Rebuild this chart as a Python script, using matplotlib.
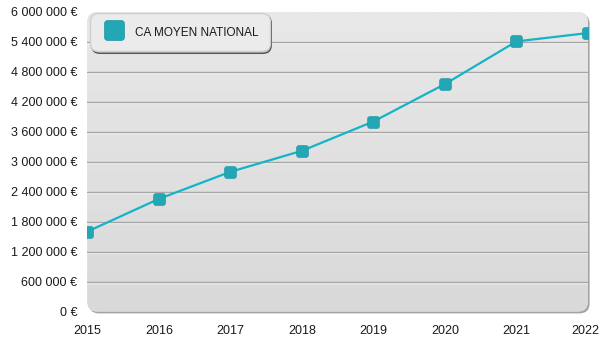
import matplotlib
matplotlib.use('Agg')
import matplotlib.pyplot as plt
import matplotlib.patches as mpatches
import matplotlib.patheffects as pe
import matplotlib.transforms as mtransforms
from matplotlib.colors import LinearSegmentedColormap
from matplotlib.lines import Line2D
from matplotlib.path import Path
import numpy as np

plt.rcParams['font.family'] = ['Liberation Sans', 'DejaVu Sans']

# Données
annees = [2015, 2016, 2017, 2018, 2019, 2020, 2021, 2022]
ca_moyen = [1602000, 2257000, 2799000, 3220000, 3807000, 4557000, 5411000, 5579000]
graduations_y = [0, 600000, 1200000, 1800000, 2400000, 3000000,
                 3600000, 4200000, 4800000, 5400000, 6000000]
libelle_serie = 'CA MOYEN NATIONAL'

COULEUR_LIGNE = '#14b4c8'
COULEUR_MARQUEUR = '#24a7b5'


def format_euro(v, pos=None):
    return f"{int(round(v)):,}".replace(',', ' ') + ' €'


# marqueur carré aux coins arrondis
carre = mpatches.FancyBboxPatch((-0.5, -0.5), 1, 1,
                                boxstyle='round,pad=0,rounding_size=0.18')
marqueur = Path(carre.get_path().vertices, carre.get_path().codes)

W, H = 600, 350
fig = plt.figure(figsize=(6, 3.5), dpi=100)
gauche, droite, haut, bas = 87.3, 588.0, 12.0, 311.6
ax = fig.add_axes([gauche / W, 1 - bas / H, (droite - gauche) / W, (bas - haut) / H])
ax.patch.set_visible(False)
for s in ax.spines.values():
    s.set_visible(False)

# fond arrondi avec ombre et dégradé
aspect = (droite - gauche) / (bas - haut)
rayon = 10 / (droite - gauche)
decal = mtransforms.ScaledTranslation(1.6 / 100, -1.8 / 100, fig.dpi_scale_trans)
ombre = mpatches.FancyBboxPatch((0, 0), 1, 1, boxstyle=f'round,pad=0,rounding_size={rayon}',
                                mutation_aspect=aspect, transform=ax.transAxes + decal,
                                facecolor='#a3a3a3', edgecolor='none', zorder=0, clip_on=False)
ax.add_patch(ombre)
fond = mpatches.FancyBboxPatch((0, 0), 1, 1, boxstyle=f'round,pad=0,rounding_size={rayon}',
                               mutation_aspect=aspect, transform=ax.transAxes,
                               facecolor='#e0e0e0', edgecolor='none', zorder=0.5, clip_on=False)
ax.add_patch(fond)
degrade = LinearSegmentedColormap.from_list('fond', ['#d9d9d9', '#e8e8e8'])
img = ax.imshow(np.linspace(0, 1, 256).reshape(-1, 1), cmap=degrade, origin='lower',
                extent=[0, 1, 0, 1], transform=ax.transAxes, aspect='auto', zorder=0.6)
img.set_clip_path(fond)

ax.plot(annees, ca_moyen, color=COULEUR_LIGNE, lw=1.6, zorder=3)
ax.plot(annees, ca_moyen, ls='none', marker=marqueur, markersize=8.4,
        markerfacecolor=COULEUR_MARQUEUR, markeredgecolor='#1d97a5', markeredgewidth=0.5,
        zorder=4)

ax.set_xlim(annees[0], annees[-1])
ax.set_ylim(graduations_y[0], graduations_y[-1])
ax.set_xticks(annees)
ax.set_yticks(graduations_y)
ax.yaxis.set_major_formatter(plt.FuncFormatter(format_euro))
ax.tick_params(axis='y', length=0, pad=7.4, labelsize=9, labelcolor='#1a1a1a')
ax.tick_params(axis='x', length=0, pad=9.5, labelsize=9, labelcolor='#1a1a1a')
ax.grid(axis='y', color='#a6a6a6', lw=1, zorder=1,
        path_effects=[pe.SimpleLineShadow(offset=(0, -0.8), shadow_color='white', alpha=0.7),
                      pe.Normal()])
ax.set_axisbelow(False)
lignes = ax.get_ygridlines()
for gl in lignes:
    gl.set_zorder(1)
# pas de ligne de grille sur les bords haut et bas
lignes[0].set_visible(False)
lignes[-1].set_visible(False)

# le dernier libellé touche le bord : petit décalage vers la gauche
etiq_x = ax.get_xticklabels()
etiq_x[-1].set_transform(etiq_x[-1].get_transform() +
                         mtransforms.ScaledTranslation(-2.5 / 100, 0, fig.dpi_scale_trans))

poignee = Line2D([], [], ls='none', marker=marqueur, markersize=14.4,
                 markerfacecolor=COULEUR_MARQUEUR, markeredgecolor='#1d97a5',
                 markeredgewidth=0.5)
leg = ax.legend([poignee], [libelle_serie], loc='upper left',
                bbox_to_anchor=((90 - gauche) / (droite - gauche), 1 - (13 - haut) / (bas - haut)),
                borderaxespad=0, fontsize=8.5, numpoints=1, handlelength=2.1,
                handleheight=1.7, handletextpad=0.75, borderpad=0.95, fancybox=True,
                frameon=True, facecolor='#ebebeb', edgecolor='#cfcfcf', framealpha=1,
                shadow={'ox': 1.2, 'oy': -1.4, 'facecolor': '#b3b3b3', 'alpha': 0.9})
leg.legendPatch.set_boxstyle('round', pad=0, rounding_size=0.7)
leg.set_zorder(5)
for t in leg.get_texts():
    t.set_color('#1a1a1a')

fig.savefig('out.png', dpi=100)
